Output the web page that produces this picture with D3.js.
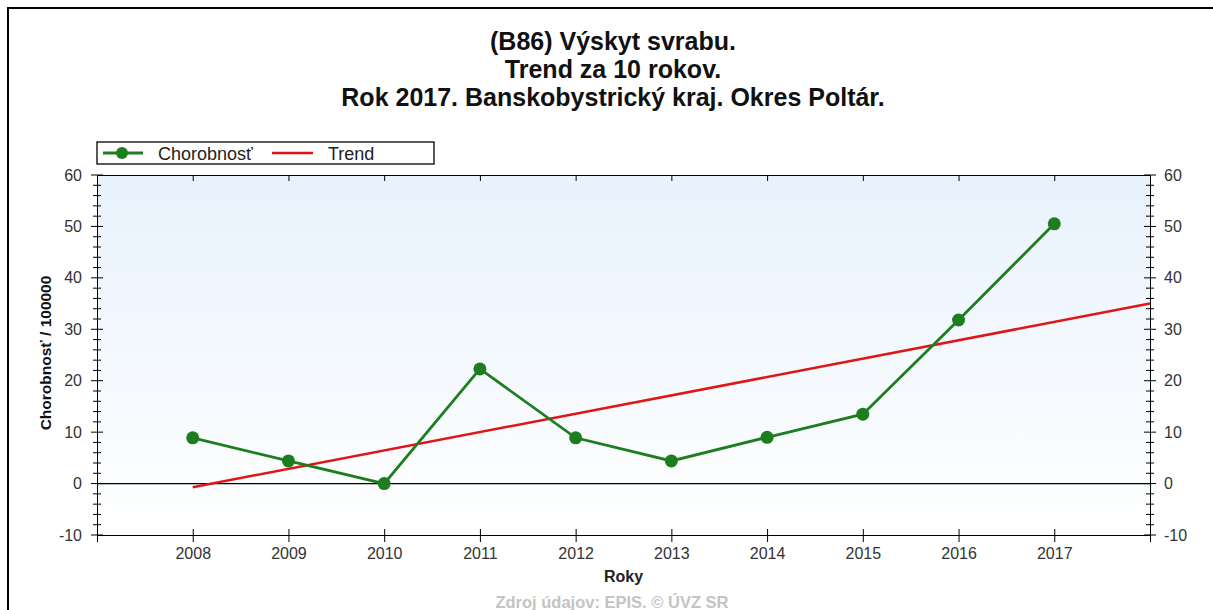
<!DOCTYPE html>
<html>
<head>
<meta charset="utf-8">
<script src="https://cdn.jsdelivr.net/npm/d3@7"></script>
<style>
  body { margin: 0; background: #fff; }
  svg { display: block; font-family: "Liberation Sans", Arial, sans-serif; }
</style>
</head>
<body>
<svg id="chart" width="1213" height="610"></svg>
<script>
// data
let years = [2008, 2009, 2010, 2011, 2012, 2013, 2014, 2015, 2016, 2017];
let chorobnost = [8.9, 4.4, 0, 22.3, 8.9, 4.4, 9.0, 13.5, 31.8, 50.5];
let trendYears = [2008, 2018];
let trendValues = [-0.7, 35.0];
let yTicks = [-10, 0, 10, 20, 30, 40, 50, 60];
let titleLines = ["(B86) Výskyt svrabu.", "Trend za 10 rokov.", "Rok 2017. Banskobystrický kraj. Okres Poltár."];

const FONT = '"Liberation Sans", Arial, sans-serif';
let svg = d3.select("#chart");
let margin = {top: 175, right: 63, bottom: 75, left: 97}
  , width = 1213 - margin.left - margin.right
  , height = 610 - margin.top - margin.bottom;

// outer frame (only top and left edges are visible)
svg.append("path")
    .attr("d", "M8,610 L8,8 L1213,8")
    .attr("fill", "none")
    .attr("stroke", "#000")
    .attr("stroke-width", 2);

// title
svg.append("g").selectAll("text")
    .data(titleLines)
  .enter().append("text")
    .attr("x", 613)
    .attr("y", (d, i) => 50 + i * 28)
    .attr("text-anchor", "middle")
    .style("font-size", "25px")
    .style("font-weight", "bold")
    .attr("fill", "#111")
    .text(d => d);

let xScale = d3.scaleLinear()
    .domain([2007, 2018])
    .range([0, width]);
let yScale = d3.scaleLinear()
    .domain([-10, 60])
    .range([height, 0]);

let defs = svg.append("defs");
let grad = defs.append("linearGradient")
    .attr("id", "bg").attr("x1", 0).attr("y1", 0).attr("x2", 0).attr("y2", 1);
grad.append("stop").attr("offset", "0%").attr("stop-color", "#e8f2fc");
grad.append("stop").attr("offset", "100%").attr("stop-color", "#ffffff");

let g = svg.append("g")
    .attr("transform", "translate(" + margin.left + "," + margin.top + ")");

g.append("rect")
    .attr("width", width)
    .attr("height", height)
    .attr("fill", "url(#bg)");

// minor ticks every 2 units, crossing the vertical axes
let minor = d3.range(-10, 61, 2).filter(v => v % 10 !== 0);
[0, width].forEach(function(x0) {
  g.append("g").selectAll("line")
      .data(minor)
    .enter().append("line")
      .attr("x1", x0 - 4).attr("x2", x0 + 4)
      .attr("y1", d => yScale(d)).attr("y2", d => yScale(d))
      .attr("stroke", "#000");
  g.append("g").selectAll("line")
      .data(yTicks)
    .enter().append("line")
      .attr("x1", x0 - 6).attr("x2", x0 + 6)
      .attr("y1", d => yScale(d)).attr("y2", d => yScale(d))
      .attr("stroke", "#000");
});

let styleLabels = a => a.selectAll("text")
    .style("font-size", "16px").style("font-family", FONT).attr("fill", "#333");

// left axis labels
g.append("g")
    .call(d3.axisLeft(yScale).tickValues(yTicks).tickSize(0).tickPadding(15).tickFormat(d => String(d)))
    .call(a => a.select(".domain").attr("stroke", "#000"))
    .call(styleLabels);

// right axis labels
g.append("g")
    .attr("transform", "translate(" + width + ",0)")
    .call(d3.axisRight(yScale).tickValues(yTicks).tickSize(0).tickPadding(14).tickFormat(d => String(d)))
    .call(a => a.select(".domain").attr("stroke", "#000"))
    .call(styleLabels);

// top axis: ticks pointing in
g.append("g")
    .call(d3.axisBottom(xScale).tickValues(years).tickSize(6).tickFormat(""))
    .call(a => a.select(".domain").attr("stroke", "#000"));

// bottom axis: ticks crossing
g.append("g")
    .attr("transform", "translate(0," + height + ")")
    .call(d3.axisBottom(xScale).tickValues(years).tickSize(7).tickPadding(6).tickFormat(d => String(d)))
    .call(a => a.select(".domain").attr("stroke", "#000"))
    .call(a => a.selectAll(".tick line").attr("y1", -6))
    .call(styleLabels);

// zero line
g.append("line")
    .attr("x1", 0).attr("x2", width)
    .attr("y1", yScale(0)).attr("y2", yScale(0))
    .attr("stroke", "#000")
    .attr("stroke-width", 1.3);

// axis titles
g.append("text")
    .attr("x", width / 2)
    .attr("y", height + 47)
    .attr("text-anchor", "middle")
    .style("font-size", "16px")
    .style("font-weight", "bold")
    .attr("fill", "#222")
    .text("Roky");

g.append("text")
    .attr("transform", "rotate(-90)")
    .attr("x", -height / 2 + 2)
    .attr("y", -46)
    .attr("text-anchor", "middle")
    .style("font-size", "15.5px")
    .style("font-weight", "bold")
    .attr("fill", "#111")
    .text("Chorobnosť / 100000");

// trend line
let line = d3.line()
    .x(d => xScale(d[0]))
    .y(d => yScale(d[1]));

g.append("path")
    .datum(d3.zip(trendYears, trendValues))
    .attr("fill", "none")
    .attr("stroke", "#e01515")
    .attr("stroke-width", 2.5)
    .attr("d", line);

// incidence series
g.append("path")
    .datum(d3.zip(years, chorobnost))
    .attr("fill", "none")
    .attr("stroke", "#1e7d1e")
    .attr("stroke-width", 2.8)
    .attr("d", line);

g.selectAll(".dot")
    .data(d3.zip(years, chorobnost))
  .enter().append("circle")
    .attr("class", "dot")
    .attr("cx", d => xScale(d[0]))
    .attr("cy", d => yScale(d[1]))
    .attr("r", 6.5)
    .attr("fill", "#1e7d1e");

// legend
let lg = svg.append("g").attr("transform", "translate(97,142)");
lg.append("rect")
    .attr("width", 337).attr("height", 22)
    .attr("fill", "#fff")
    .attr("stroke", "#000")
    .attr("stroke-width", 1.3);
lg.append("line")
    .attr("x1", 6).attr("x2", 46).attr("y1", 11).attr("y2", 11)
    .attr("stroke", "#1e7d1e").attr("stroke-width", 2.8);
lg.append("circle")
    .attr("cx", 25).attr("cy", 11).attr("r", 6)
    .attr("fill", "#1e7d1e");
lg.append("text")
    .attr("x", 61).attr("y", 17.5)
    .style("font-size", "18px")
    .attr("fill", "#222")
    .text("Chorobnosť");
lg.append("line")
    .attr("x1", 175).attr("x2", 216).attr("y1", 11).attr("y2", 11)
    .attr("stroke", "#e01515").attr("stroke-width", 2.5);
lg.append("text")
    .attr("x", 231).attr("y", 17.5)
    .style("font-size", "18px")
    .attr("fill", "#222")
    .text("Trend");

// source footer
svg.append("text")
    .attr("x", 612)
    .attr("y", 608)
    .attr("text-anchor", "middle")
    .style("font-size", "16.5px")
    .style("font-weight", "bold")
    .attr("fill", "#c4c4c4")
    .text("Zdroj údajov: EPIS. © ÚVZ SR");
</script>
</body>
</html>
